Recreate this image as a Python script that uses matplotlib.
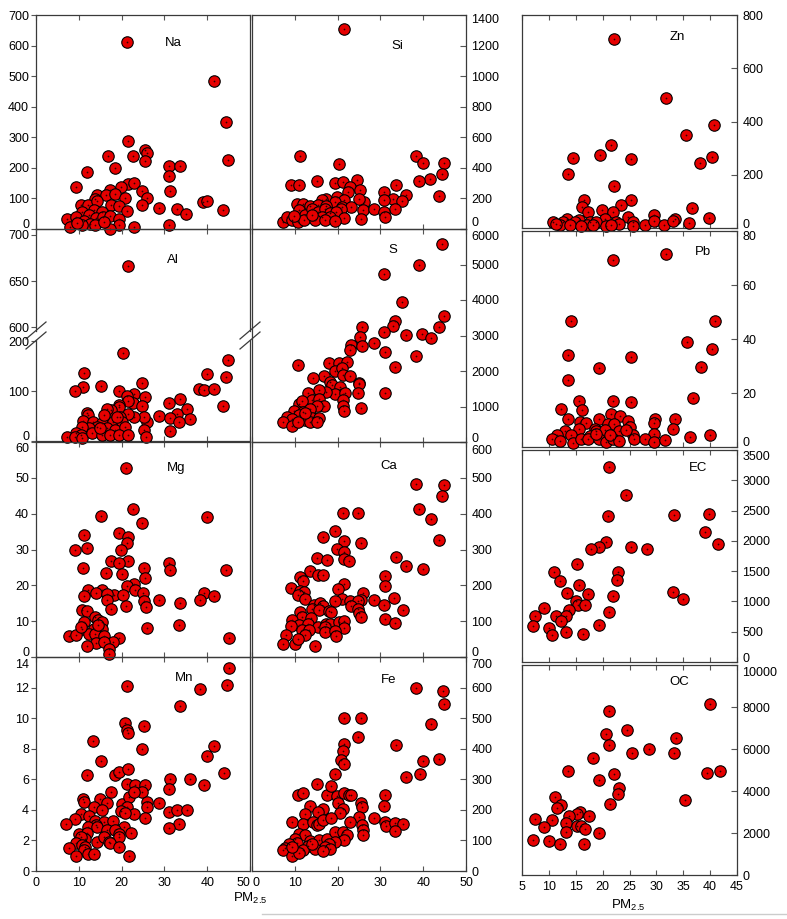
import matplotlib.pyplot as plt
from matplotlib.lines import Line2D
from matplotlib.transforms import ScaledTranslation

W, H = 787, 919

# (PM2.5, concentration) pairs
na_pts = [(21.3, 612), (41.7, 483), (44.5, 349), (44.9, 227), (21.5, 287), (25.5, 259), (25.9, 249),
          (25.4, 224), (16.8, 240), (22.7, 238), (11.8, 186), (18.4, 200), (31.0, 205), (33.6, 205),
          (31.0, 175), (9.4, 139), (21.5, 146), (23.0, 150), (19.9, 137), (17.4, 128), (14.3, 112),
          (16.4, 110), (18.5, 115), (20.9, 101), (24.8, 123), (25.9, 101), (24.8, 79), (31.2, 124),
          (13.7, 99), (10.4, 77), (12.1, 77), (14.3, 90), (17.6, 80), (19.3, 75), (10.7, 55), (13.5, 61),
          (15.4, 55), (21.3, 59), (28.7, 68), (33.0, 64), (35.1, 50), (39.0, 88), (40.0, 90), (43.8, 61),
          (7.2, 32), (9.4, 39), (12.3, 45), (14.0, 37), (15.6, 39), (17.4, 42), (19.5, 34), (11.3, 25),
          (12.7, 17), (8.0, 7), (10.8, 12), (13.7, 12), (19.3, 14), (22.8, 7), (31.0, 14), (17.4, 1),
          (15.8, 23), (9.6, 21)]

al_pts = [(21.4, 666), (20.3, 177), (44.9, 162), (40.0, 134), (44.5, 128), (11.3, 136), (11.0, 109),
          (9.2, 101), (15.2, 110), (19.5, 100), (24.8, 117), (38.2, 105), (39.3, 102), (41.7, 105),
          (43.8, 71), (23.0, 94), (21.3, 90), (25.4, 89), (22.7, 77), (21.6, 81), (31.0, 77), (33.6, 84),
          (24.8, 70), (19.3, 72), (19.5, 68), (17.6, 62), (16.6, 64), (11.8, 56), (12.1, 52), (35.3, 64),
          (32.9, 54), (28.7, 50), (31.2, 46), (35.9, 44), (33.3, 39), (25.9, 39), (25.3, 49), (22.8, 49),
          (21.5, 54), (19.7, 49), (11.0, 41), (13.3, 38), (15.4, 37), (18.0, 39), (20.1, 39), (14.3, 29),
          (12.3, 26), (10.7, 29), (16.6, 27), (18.4, 23), (20.9, 28), (9.4, 17), (10.4, 13), (7.2, 9),
          (9.2, 9), (10.8, 6), (13.1, 16), (15.4, 13), (17.4, 13), (19.3, 13), (21.6, 13), (25.3, 23),
          (25.7, 9), (31.2, 21), (15.0, 26), (15.8, 52), (18.9, 49)]

mg_pts = [(21.1, 52.7), (22.7, 41.2), (40.0, 39.1), (15.2, 39.3), (24.8, 37.5), (19.5, 34.7), (11.1, 34.0),
          (21.6, 33.5), (21.3, 31.8), (11.8, 30.5), (9.2, 30.0), (19.9, 30.0), (17.5, 26.8), (21.4, 26.8),
          (19.5, 26.2), (31.0, 26.2), (31.2, 24.4), (25.2, 24.8), (44.5, 24.2), (11.0, 24.9), (16.4, 23.4),
          (20.2, 23.3), (25.4, 22.0), (22.8, 20.5), (21.3, 19.7), (23.2, 18.8), (12.1, 18.6), (15.4, 18.6),
          (14.1, 17.9), (18.3, 17.4), (20.3, 17.4), (16.7, 17.5), (25.0, 17.9), (39.2, 17.9), (38.4, 15.8),
          (41.7, 16.9), (11.1, 16.9), (28.7, 15.8), (16.7, 15.8), (25.3, 15.5), (21.1, 14.2), (33.7, 15.1),
          (25.8, 14.0), (17.6, 13.5), (10.7, 13.2), (11.9, 12.7), (13.9, 11.3), (14.5, 10.2), (15.4, 9.9),
          (11.1, 9.8), (33.3, 9.0), (25.9, 8.2), (10.7, 7.9), (13.5, 7.9), (15.4, 7.9), (12.3, 6.5),
          (13.7, 6.5), (7.6, 5.8), (9.4, 6.2), (15.9, 5.8), (19.5, 5.4), (45.0, 5.3), (18.1, 4.2),
          (14.0, 3.9), (15.8, 4.2), (11.8, 3.1), (17.0, 2.1), (17.0, 0.9), (10.4, 8.4), (14.6, 8.8)]

mn_pts = [(45.0, 13.3), (21.3, 12.1), (38.4, 11.9), (44.6, 12.2), (33.7, 10.8), (20.9, 9.7), (21.3, 9.2),
          (21.4, 9.0), (25.3, 9.5), (13.3, 8.5), (24.8, 8.0), (41.7, 8.2), (40.0, 7.5), (15.2, 7.2),
          (11.8, 6.3), (18.5, 6.3), (19.5, 6.5), (21.4, 6.7), (31.2, 6.0), (35.9, 6.0), (43.9, 6.4),
          (39.3, 5.65), (31.0, 5.35), (21.3, 5.7), (23.2, 5.6), (25.5, 5.6), (24.8, 5.2), (17.6, 5.2),
          (11.0, 4.7), (11.1, 4.5), (14.9, 4.7), (16.6, 4.45), (13.6, 4.2), (15.4, 4.0), (20.1, 4.4),
          (21.7, 4.85), (22.8, 5.2), (21.3, 4.2), (19.9, 3.9), (25.9, 4.5), (25.9, 4.2), (28.7, 4.45),
          (31.0, 3.85), (32.9, 4.0), (35.3, 4.0), (33.3, 3.05), (31.0, 2.8), (22.8, 3.7), (25.5, 3.5),
          (10.6, 3.75), (9.2, 3.4), (7.1, 3.1), (12.3, 3.6), (13.9, 3.3), (15.8, 3.2), (18.1, 3.3),
          (14.1, 3.0), (12.1, 2.9), (14.3, 2.9), (20.5, 2.85), (16.6, 2.7), (18.5, 2.7), (22.3, 2.5),
          (10.0, 2.4), (11.8, 2.5), (11.5, 2.1), (10.4, 2.2), (19.3, 2.4), (19.5, 2.2), (14.3, 1.9),
          (15.8, 2.2), (17.0, 1.9), (17.4, 1.85), (9.4, 1.8), (10.8, 1.7), (11.5, 1.6), (7.8, 1.5),
          (19.5, 1.6), (11.3, 1.4), (9.4, 1.0), (12.1, 1.1), (13.5, 1.1), (21.7, 0.95), (20.9, 3.8)]

si_pts = [(21.5, 1309), (11.3, 476), (20.4, 424), (38.3, 476), (39.9, 433), (44.9, 435), (44.3, 357),
          (41.6, 326), (39.0, 313), (43.8, 217), (9.2, 287), (11.0, 291), (15.2, 313), (19.4, 304),
          (21.2, 309), (24.6, 320), (22.9, 276), (33.6, 291), (25.3, 254), (22.5, 243), (30.9, 239),
          (35.9, 222), (32.9, 196), (30.9, 189), (35.0, 183), (26.1, 178), (24.9, 196), (19.8, 211),
          (21.4, 189), (17.3, 196), (16.3, 189), (19.3, 178), (10.5, 163), (11.8, 163), (13.6, 150),
          (15.4, 157), (17.3, 152), (21.0, 146), (23.2, 141), (26.0, 124), (28.6, 128), (33.3, 128),
          (30.9, 113), (31.1, 80), (10.9, 124), (12.3, 91), (14.0, 128), (15.5, 113), (17.1, 128),
          (18.3, 102), (20.8, 128), (19.6, 113), (16.3, 80), (18.3, 80), (21.5, 70), (25.4, 65),
          (7.2, 48), (8.2, 76), (9.3, 59), (10.7, 48), (12.1, 59), (14.8, 59), (17.1, 59), (19.4, 54),
          (9.9, 85), (14.0, 91)]

s_pts = [(44.3, 5564), (39.0, 4995), (30.9, 4725), (35.1, 3952), (44.9, 3551), (33.3, 3420), (32.9, 3271),
         (25.8, 3234), (43.7, 3234), (30.9, 3094), (35.9, 3020), (39.8, 3038), (41.8, 2926), (25.3, 2954),
         (23.2, 2740), (22.8, 2600), (25.8, 2693), (28.6, 2787), (31.1, 2535), (38.3, 2414), (33.4, 2106),
         (10.7, 2162), (18.1, 2227), (20.4, 2227), (22.3, 2246), (19.3, 1994), (21.0, 2088), (21.2, 1901),
         (22.8, 1855), (16.9, 1855), (14.2, 1808), (18.3, 1696), (18.8, 1603), (24.9, 1668), (24.9, 1622),
         (20.6, 1556), (21.2, 1342), (19.4, 1361), (21.8, 1389), (17.3, 1417), (15.7, 1454), (24.7, 1370),
         (31.1, 1389), (13.2, 1370), (14.0, 1174), (15.6, 1202), (16.9, 1016), (21.2, 1174), (21.2, 1016),
         (21.4, 876), (25.5, 951), (10.9, 1062), (11.7, 1156), (15.2, 1016), (9.7, 876), (11.8, 848),
         (13.5, 923), (10.9, 755), (8.2, 718), (9.3, 643), (12.3, 624), (14.0, 690), (15.7, 662),
         (7.2, 569), (9.3, 457), (10.7, 550), (13.6, 550), (15.2, 569), (12.3, 829)]

ca_pts = [(38.3, 483), (44.9, 479), (44.5, 450), (39.1, 414), (41.8, 386), (43.8, 326), (21.2, 402),
          (24.7, 402), (19.4, 353), (16.5, 335), (21.4, 323), (25.4, 318), (19.8, 301), (21.5, 292),
          (21.4, 274), (22.7, 268), (15.2, 276), (17.5, 270), (33.6, 279), (35.9, 253), (39.9, 246),
          (13.6, 241), (15.4, 230), (16.5, 228), (11.3, 222), (11.8, 211), (31.1, 227), (31.1, 199),
          (21.4, 205), (20.1, 190), (9.2, 193), (11.1, 183), (12.1, 181), (10.7, 174), (12.3, 163),
          (25.9, 179), (25.5, 160), (21.0, 162), (22.9, 155), (24.7, 155), (19.3, 155), (28.5, 158),
          (30.9, 146), (33.1, 165), (35.2, 130), (14.4, 146), (15.9, 151), (16.7, 141), (14.0, 135),
          (15.7, 132), (11.3, 126), (11.7, 113), (17.9, 127), (18.5, 125), (23.2, 141), (24.7, 135),
          (24.9, 123), (25.5, 113), (13.8, 109), (9.3, 104), (11.0, 88), (9.2, 87), (13.2, 93),
          (15.4, 83), (17.3, 92), (18.3, 92), (20.4, 98), (21.4, 101), (21.6, 81), (17.0, 83),
          (31.1, 106), (33.3, 95), (11.7, 76), (13.4, 74), (12.4, 62), (17.0, 69), (19.3, 73),
          (19.6, 60), (7.9, 62), (7.2, 37), (10.1, 37), (10.7, 51), (14.8, 30)]

fe_pts = [(38.3, 598), (44.6, 589), (44.9, 547), (41.8, 481), (21.4, 500), (25.4, 502), (24.7, 439),
          (21.4, 417), (21.2, 391), (20.8, 364), (21.5, 350), (33.7, 413), (43.8, 367), (40.0, 359),
          (39.3, 317), (35.9, 308), (19.4, 317), (15.2, 283), (10.7, 250), (11.8, 256), (17.5, 250),
          (18.5, 278), (19.8, 244), (20.2, 222), (21.5, 256), (22.6, 247), (23.2, 250), (31.1, 247),
          (30.9, 213), (25.4, 222), (25.8, 209), (13.6, 213), (16.5, 203), (15.4, 194), (12.4, 186),
          (21.2, 202), (20.5, 189), (28.6, 174), (24.9, 176), (9.3, 161), (11.8, 153), (14.2, 161),
          (15.2, 150), (15.7, 153), (16.7, 167), (18.5, 172), (22.9, 161), (25.7, 150), (26.0, 133),
          (26.0, 117), (31.1, 161), (31.3, 148), (33.3, 158), (35.2, 153), (33.4, 131), (10.9, 122),
          (12.3, 117), (10.1, 106), (13.6, 98), (15.7, 100), (17.5, 106), (19.3, 128), (21.2, 128),
          (22.2, 117), (21.5, 100), (19.4, 94), (17.9, 89), (17.1, 78), (18.3, 72), (13.2, 83),
          (14.8, 72), (10.5, 92), (8.6, 89), (7.6, 74), (7.2, 69), (12.0, 69), (9.3, 48), (10.9, 58),
          (9.3, 78), (14.0, 89), (16.7, 67)]

zn_pts = [(22.1, 710), (31.7, 490), (35.5, 348), (40.7, 385), (40.3, 266), (38.1, 244), (21.6, 310),
          (19.6, 275), (25.3, 259), (14.4, 263), (13.6, 203), (22.1, 156), (16.5, 106), (25.3, 106),
          (23.5, 88), (16.1, 79), (36.7, 75), (17.2, 60), (19.8, 66), (22.0, 60), (29.6, 50), (24.7, 41),
          (39.8, 38), (13.3, 35), (15.6, 31), (33.5, 34), (20.4, 34), (10.8, 21), (12.7, 21), (14.8, 21),
          (17.6, 21), (18.8, 21), (22.5, 21), (25.6, 21), (27.8, 13), (29.6, 25), (31.5, 13), (33.0, 25),
          (36.1, 19), (12.0, 10), (13.9, 10), (17.0, 10), (20.7, 9), (23.1, 16), (25.6, 9), (16.0, 8),
          (18.2, 11), (21.5, 13), (11.4, 15)]

pb_pts = [(21.9, 69.4), (31.7, 71.3), (14.2, 46.5), (40.9, 46.5), (35.7, 39.0), (40.4, 36.2), (13.5, 34.1),
          (25.2, 33.5), (38.3, 29.5), (19.4, 29.4), (13.5, 24.8), (36.9, 18.0), (15.6, 17.1), (22.0, 17.1),
          (25.2, 16.7), (12.2, 13.9), (16.2, 13.6), (21.6, 12.4), (23.3, 11.4), (13.6, 10.2), (33.5, 10.4),
          (29.8, 10.2), (19.4, 10.2), (15.7, 9.3), (16.9, 8.9), (24.7, 9.7), (29.6, 9.0), (21.0, 8.4),
          (22.2, 8.4), (33.0, 6.8), (15.6, 6.8), (18.5, 6.8), (25.0, 7.4), (13.0, 5.9), (18.8, 5.9),
          (20.5, 6.2), (23.1, 5.9), (14.2, 4.3), (17.6, 4.0), (25.6, 4.3), (29.6, 5.0), (40.0, 4.6),
          (36.3, 3.7), (11.6, 4.6), (10.5, 2.9), (12.0, 2.2), (14.5, 1.5), (16.0, 2.9), (17.3, 3.1),
          (19.4, 3.1), (20.7, 1.9), (21.9, 2.9), (23.0, 2.2), (25.9, 3.1), (27.8, 2.9), (29.6, 1.9),
          (31.6, 2.5), (18.7, 5.0), (21.3, 4.3), (24.4, 6.2)]

ec_pts = [(21.1, 3227), (24.4, 2751), (21.0, 2407), (33.2, 2423), (39.7, 2451), (39.0, 2150), (41.5, 1947),
          (20.6, 1975), (19.3, 1893), (17.9, 1860), (25.2, 1893), (28.3, 1860), (15.2, 1614), (11.0, 1482),
          (22.8, 1482), (22.7, 1357), (12.0, 1340), (15.6, 1275), (13.4, 1138), (17.3, 1121), (33.0, 1149),
          (34.9, 1045), (21.9, 1083), (15.1, 1001), (15.4, 946), (16.7, 946), (9.1, 892), (13.7, 864),
          (7.5, 755), (11.4, 766), (13.1, 766), (12.2, 673), (21.1, 821), (10.1, 563), (7.0, 602),
          (19.3, 607), (13.1, 492), (10.5, 438), (16.4, 470)]

oc_pts = [(40.0, 8157), (21.2, 7808), (24.6, 6919), (20.7, 6729), (33.6, 6538), (21.2, 6205), (28.7, 5983),
          (25.4, 5824), (33.3, 5824), (18.2, 5586), (13.5, 4935), (41.9, 4951), (39.4, 4856), (22.1, 4793),
          (19.4, 4539), (23.0, 4158), (22.8, 3841), (35.3, 3555), (21.3, 3396), (11.1, 3714), (12.2, 3317),
          (11.5, 3206), (15.7, 3000), (15.3, 2920), (13.8, 2809), (17.4, 2809), (7.5, 2682), (10.5, 2603),
          (13.1, 2492), (9.1, 2285), (15.3, 2317), (15.9, 2317), (16.8, 2206), (13.1, 2047), (19.4, 2016),
          (7.0, 1650), (10.1, 1619), (12.0, 1492), (16.5, 1492)]

plt.rcParams['font.family'] = ['Liberation Sans', 'DejaVu Sans']
plt.rcParams['mathtext.fontset'] = 'custom'
plt.rcParams['mathtext.rm'] = 'Liberation Sans'
plt.rcParams['mathtext.it'] = 'Liberation Sans'

fig = plt.figure(figsize=(W / 100, H / 100), dpi=100)
fig.patch.set_facecolor('white')

RED = '#e60000'
SPINE = '#3a3a3a'


def panel(x0, x1, y0, y1):
    ax = fig.add_axes([x0 / W, 1 - y1 / H, (x1 - x0) / W, (y1 - y0) / H])
    ax.patch.set_visible(False)
    for s in ax.spines.values():
        s.set_color(SPINE)
        s.set_linewidth(0.9)
    return ax


def draw_points(ax, pts):
    xs = [p[0] for p in pts]
    ys = [p[1] for p in pts]
    ax.scatter(xs, ys, s=68, c=RED, edgecolors='black', linewidths=0.8, clip_on=False, zorder=3)
    ax.scatter(xs, ys, s=1.6, c='#300000', linewidths=0, clip_on=False, zorder=4)


def nudge(lab, dy_px):
    # move a tick label vertically by dy pixels (positive = up)
    lab.set_transform(lab.get_transform() + ScaledTranslation(0, dy_px / 100, fig.dpi_scale_trans))


def setup(ax, col, ylim, yticks, bottom=False, up=0, down=0):
    if col == 'R':
        ax.set_xlim(5, 45)
        ax.set_xticks([5, 10, 15, 20, 25, 30, 35, 40, 45])
    else:
        ax.set_xlim(0, 50)
        ax.set_xticks([0, 10, 20, 30, 40, 50])
    ax.tick_params(axis='x', direction='in', top=True, bottom=True, length=3.5, width=0.8,
                   color='#555555', labelbottom=bottom, labelsize=9, pad=4)
    ax.set_ylim(ylim)
    ax.set_yticks(list(yticks))
    if col == 'L':
        ax.tick_params(axis='y', direction='out', left=True, right=False, length=3.5, width=0.8,
                       color='#555555', labelsize=9, pad=1.5)
    else:
        ax.tick_params(axis='y', direction='in', left=False, right=True, labelleft=False,
                       labelright=True, length=4, width=0.8, color='#555555', labelsize=9, pad=4)
    ticks = ax.yaxis.get_major_ticks()
    if up:
        for t in ticks[:1]:
            nudge(t.label1, up)
            nudge(t.label2, up)
    if down:
        for t in ticks[-1:]:
            nudge(t.label1, -down)
            nudge(t.label2, -down)


def label(x, y, txt):
    fig.text(x / W, 1 - y / H, txt, ha='center', va='center', fontsize=9.5)


# ---- left column
ax = panel(36, 250, 15, 229)
setup(ax, 'L', (0, 700), range(0, 701, 100), up=5)
draw_points(ax, na_pts)
label(173, 43, 'Na')

al_hi = [p for p in al_pts if p[1] > 400]
al_lo = [p for p in al_pts if p[1] <= 400]
ax_u = panel(36, 250, 229, 331)
setup(ax_u, 'L', (595.7, 706.5), [600, 650, 700])
ax_u.spines['bottom'].set_visible(False)
ax_u.tick_params(axis='x', bottom=False)
draw_points(ax_u, al_hi)
ax_l = panel(36, 250, 340, 441)
setup(ax_l, 'L', (0, 202), [0, 100, 200], up=5)
ax_l.spines['top'].set_visible(False)
ax_l.tick_params(axis='x', top=False)
draw_points(ax_l, al_lo)
label(173, 260, 'Al')
for cx in (36, 250):
    for dy in (0, 10):
        fig.add_artist(Line2D([(cx - 10) / W, (cx + 10) / W],
                              [1 - (339 + dy) / H, 1 - (322 + dy) / H],
                              color=SPINE, lw=0.9))

ax = panel(36, 250, 442, 657)
setup(ax, 'L', (0, 60), range(0, 61, 10), up=6, down=6)
draw_points(ax, mg_pts)
label(176, 468, 'Mg')

ax = panel(36, 250, 657, 871)
setup(ax, 'L', (0, 14), range(0, 15, 2), bottom=True, down=7)
draw_points(ax, mn_pts)
ax.get_xticklabels()[-1].set_ha('right')
label(184, 678, 'Mn')

# ---- middle column
ax = panel(252, 466, 15, 229)
setup(ax, 'M', (0, 1400), range(0, 1401, 200), up=7, down=3)
draw_points(ax, si_pts)
label(397, 46, 'Si')

ax = panel(252, 466, 229, 442)
setup(ax, 'M', (0, 6000), range(0, 6001, 1000), up=5, down=7)
draw_points(ax, s_pts)
label(393, 250, 'S')

ax = panel(252, 466, 442, 657)
setup(ax, 'M', (0, 600), range(0, 601, 100), up=5, down=7)
draw_points(ax, ca_pts)
label(389, 466, 'Ca')

ax = panel(252, 466, 657, 871)
setup(ax, 'M', (0, 700), range(0, 701, 100), bottom=True, down=7)
draw_points(ax, fe_pts)
ax.get_xticklabels()[0].set_ha('left')
label(389, 680, 'Fe')

# ---- right column
ax = panel(522, 737, 15, 228)
setup(ax, 'R', (0, 800), range(0, 801, 200), up=5)
draw_points(ax, zn_pts)
label(677, 37, 'Zn')

ax = panel(522, 737, 231, 447)
setup(ax, 'R', (0, 80), range(0, 81, 20), up=5, down=5)
draw_points(ax, pb_pts)
label(703, 252, 'Pb')

ax = panel(522, 737, 450, 662)
setup(ax, 'R', (0, 3500), range(0, 3501, 500), up=5, down=5)
draw_points(ax, ec_pts)
label(698, 468, 'EC')

ax = panel(522, 737, 665, 875)
setup(ax, 'R', (0, 10000), range(0, 10001, 2000), bottom=True, down=7)
draw_points(ax, oc_pts)
label(679, 682, 'OC')

fig.text(250 / W, 1 - 898 / H, 'PM$_{2.5}$', ha='center', va='center', fontsize=9.5)
fig.text(628 / W, 1 - 905 / H, 'PM$_{2.5}$', ha='center', va='center', fontsize=9.5)
fig.add_artist(Line2D([262 / W, 1.0], [1 - 914 / H, 1 - 914 / H], color='#cccccc', lw=1))

fig.savefig('out.png', dpi=100)
